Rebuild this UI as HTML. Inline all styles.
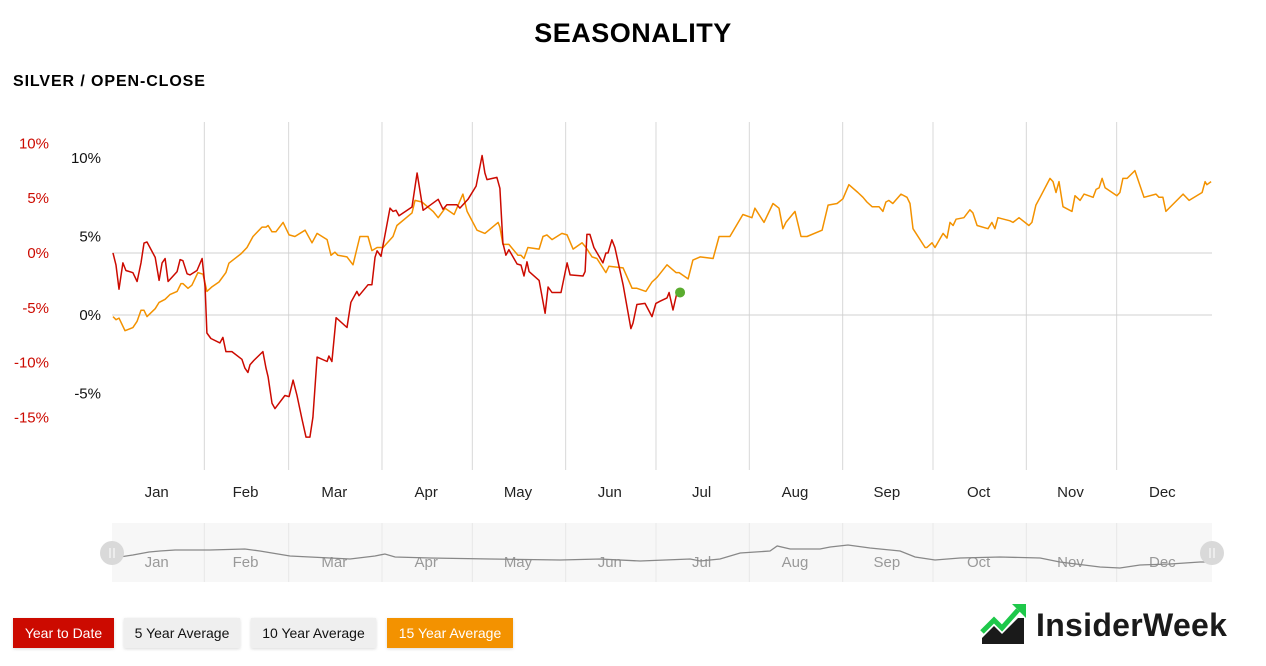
<!DOCTYPE html>
<html><head><meta charset="utf-8">
<style>
body{margin:0;width:1266px;height:666px;background:#fff;font-family:"Liberation Sans","DejaVu Sans",sans-serif;overflow:hidden;position:relative}
.t{position:absolute}
.btn{position:absolute;top:618px;height:30px;line-height:30px;font-size:14px;text-align:center;box-shadow:0 1px 3px rgba(0,0,0,.15)}
</style></head><body>
<div class="t" style="left:0;width:1266px;top:18px;text-align:center;font-size:27px;font-weight:bold;letter-spacing:0.5px">SEASONALITY</div>
<div class="t" style="left:13px;top:73px;font-size:16px;font-weight:bold;letter-spacing:0.9px">SILVER / OPEN-CLOSE</div>
<svg id="chart" width="1266" height="666" style="position:absolute;left:0;top:0"></svg>
<div class="btn" style="left:13px;width:101px;background:#cc0a00;color:#fff">Year to Date</div>
<div class="btn" style="left:124px;width:116px;background:#efefef;color:#111">5 Year Average</div>
<div class="btn" style="left:251px;width:125px;background:#efefef;color:#111">10 Year Average</div>
<div class="btn" style="left:387px;width:126px;background:#f39200;color:#fff">15 Year Average</div>
<div class="t" style="left:980px;top:604px;width:260px;height:44px">
<svg width="48" height="42" style="position:absolute;left:0;top:0">
<polygon points="2,40 2,34 14,22 22,30 38,14 44,14 44,40" fill="#1a1a1a"/>
<polyline points="2,28 14,16 22,24 38,6" fill="none" stroke="#1ec84a" stroke-width="5"/>
<polygon points="32,0 46,0 46,14" fill="#1ec84a"/>
</svg>
<div style="position:absolute;left:56px;top:3px;font-size:32px;font-weight:bold;color:#1a1a1a;letter-spacing:0.3px">InsiderWeek</div>
</div>
<script>
const months=["Jan","Feb","Mar","Apr","May","Jun","Jul","Aug","Sep","Oct","Nov","Dec"];
const monthStarts=[0,31,59,90,120,151,181,212,243,273,304,334];
const redTicks=[10,5,0,-5,-10,-15];
const blackTicks=[10,5,0,-5];
const ytdDays=[0,1,2,3.3,4.3,6.6,8,9.3,10.3,11.3,14,15.3,16.3,17.3,18.3,21.3,22.3,23.2,24.6,25.6,27.9,29.6,30.6,31.2,32.5,35.5,36.5,37.5,39.5,42.8,43.8,44.8,45.5,46.8,49.8,50.8,51.5,52.8,53.8,57.1,58.5,59.8,61.1,62.8,64.1,65.4,66.4,67.8,71.1,71.7,72.7,74.1,77.7,79,81,81.7,84.7,86,87,87.7,89,92,93,94,95,99.3,101,103,108,109.6,110.9,114.2,115.2,117.9,120.6,122.6,123.5,124.2,127.5,128.5,129.5,130.5,131.5,134.2,135.5,136.5,137.5,138.2,141.5,143.5,144.5,145.8,148.8,150.8,151.8,156.1,156.8,157.4,158.4,159.7,162.7,163.7,164.4,165.7,166.7,169.4,170.7,172,172.7,174,176.7,179,180.3,181.7,184,184.7,186,187.3,188];
const ytdValues=[0,-1.1,-3.3,-0.9,-1.6,-1.8,-2.6,-0.9,0.9,1.0,-0.4,-2.5,-0.9,-0.5,-2.6,-1.7,-0.6,-0.7,-1.9,-2.0,-1.6,-0.5,-3.1,-7.3,-7.8,-8.2,-7.7,-9.0,-9.0,-9.7,-10.5,-10.9,-10.2,-9.8,-9.0,-10.5,-11.3,-13.7,-14.2,-13.0,-13.1,-11.6,-13.0,-15.2,-16.8,-16.8,-15.0,-9.5,-9.9,-9.4,-9.9,-5.9,-6.8,-4.5,-3.5,-3.9,-2.9,-2.9,-0.4,0.2,-0.3,4.1,3.8,3.9,3.4,4.2,7.3,3.9,4.9,4.0,4.4,4.4,4.1,4.9,6.1,8.9,7.3,6.7,6.9,5.9,0.9,-0.2,0.3,-1.0,-1.1,-2.1,-0.8,-1.7,-2.5,-5.5,-3.1,-3.6,-3.6,-0.9,-2.0,-2.1,-1.7,1.7,1.7,0.5,-0.9,0,0,1.2,0.5,-2.9,-4.9,-6.9,-6.4,-4.7,-4.6,-5.8,-4.6,-4.4,-4.1,-3.6,-5.2,-3.6,-3.6];
const avgDays=[0,1,2,4,6.6,8,9.3,10.3,11.3,14,15.3,17.3,18.9,21.3,22.6,23.2,24.9,26.2,28.2,29.9,31.2,32.9,35.2,37.5,38.5,42.5,44.5,46.5,49.5,50.8,51.5,52.8,54.1,56.5,58.5,60.4,63.8,66.1,67.8,71.1,72.4,73.7,74.7,77.7,79.7,82,84.7,86,87.7,89.7,93,94.3,99.3,100.3,102.6,106.3,108,110.3,113.3,116.2,117.6,120.9,123.5,127.9,128.5,129.5,131.5,134.5,135.5,136.5,137.8,141.5,142.8,144.1,145.8,149.1,150.8,152.8,155.8,157.1,159.1,160.7,163.7,164.7,169.4,172.4,174,177,179,180.7,184,187,188,191,192.6,195,199.3,201.3,204.9,209.2,212.2,213.2,216.2,219.2,221.2,222.5,223.5,226.5,228.5,230.5,235.5,237.5,240.5,242.4,244.4,247.4,249.1,250.4,252.1,254.4,255.7,256.7,257.7,259,261.7,263.7,264.7,265.7,269.7,270.3,272,273,275.7,277,278,279,280,282.6,284.6,285.6,287,290.6,291.9,292.9,293.9,297.9,298.9,300.9,304.2,305.2,306.5,307.9,311.2,312.2,313.2,314.2,315.5,318.5,319.5,321.2,322.5,325.5,326.5,327.5,328.5,329.5,333.4,334.4,335.4,336.8,339.4,342.4,346.4,347.4,348.7,349.7,355.4,357.4,361.7,362.7,363.3,364.7];
const avgValues=[-0.1,-0.3,-0.2,-1.0,-0.8,-0.4,0.3,0.3,-0.1,0.4,0.8,1.0,1.3,1.5,2.0,2.0,1.7,1.9,2.7,2.6,1.5,1.8,2.1,2.7,3.3,3.9,4.3,5.0,5.6,5.6,5.7,5.3,5.3,5.9,5.1,5.0,5.4,4.6,5.2,4.8,3.8,4.0,3.8,3.7,3.2,5.0,5.0,4.1,4.3,4.3,5.0,5.7,6.5,7.3,7.2,6.6,6.2,6.8,6.4,7.7,6.6,5.4,5.2,5.9,5.6,4.5,4.5,3.8,3.8,3.6,4.3,4.2,5.0,5.1,4.8,5.2,5.1,4.2,4.6,4.3,3.7,3.6,2.7,3.1,3.0,1.7,1.7,1.5,2.1,2.4,3.2,2.7,2.7,2.3,3.5,3.7,3.6,5.0,5.0,6.4,6.2,6.8,5.9,7.1,6.8,5.5,5.9,6.6,5.0,5.0,5.4,7.0,7.1,7.4,8.3,7.8,7.5,7.2,6.9,6.9,6.6,7.2,7.3,7.1,7.7,7.5,7.1,5.5,4.3,4.3,4.6,4.3,5.2,4.9,5.9,5.7,6.1,6.2,6.7,6.5,5.7,5.5,5.9,5.5,6.2,6.0,5.9,6.2,5.7,5.9,7.0,7.5,8.7,8.5,7.8,8.5,6.9,6.6,7.6,7.3,7.7,7.5,8.0,8.1,8.7,8.1,7.6,7.8,8.7,8.7,9.2,7.5,7.7,7.5,7.5,6.6,7.7,7.3,7.8,8.5,8.3,8.5];
const navDays=[0,6.6,12,15.6,20.6,32.2,43.8,48.8,58.8,72.1,78.7,87,90.3,93.7,105.3,125.3,148.5,161.8,175.1,183.4,191.7,195,201.6,208.3,218.2,220.6,224.9,234.8,238.2,244.1,251.4,261.4,266.4,273,281.3,294.6,307.9,314.5,327.8,334.4,341.1,351.1,361,365];
const navValues=[12,15,18,19,20,20,21,19,14,12,11,14,16,13,12,11,10,11,9,10,11,9,11,17,19,24,21,21,23,25,22,19,13,10,12,13,12,8,3,2,5,6,8,8];

const NS="http://www.w3.org/2000/svg";
const svg=document.getElementById('chart');
const X0=113,X1=1212;
const x=d=>X0+d*(X1-X0)/365;
const yRed=v=>253-v*10.96;
const yBlack=v=>315-v*15.7;
const yNav=v=>570-v;
function mk(tag,attrs){const e=document.createElementNS(NS,tag);for(const k in attrs)e.setAttribute(k,attrs[k]);svg.appendChild(e);return e;}
let nb=mk('rect',{x:112,y:523,width:1100,height:59,fill:'#f7f7f7'});


monthStarts.forEach((d,i)=>{
  if(i>0){
    const gx=x(d)-2;
    let g=mk('line',{x1:gx,x2:gx,y1:122,y2:470,stroke:'#d8d8d8','stroke-width':1});
    
    
    let g2=mk('line',{x1:gx,x2:gx,y1:523,y2:582,stroke:'#e8e8e8','stroke-width':1});
    
    
  }
  const next=i<11?monthStarts[i+1]:365;
  const cx=x((d+next)/2)-3;
  let t=mk('text',{x:cx,y:497,'text-anchor':'middle','font-size':15,fill:'#222','font-family':'Liberation Sans, sans-serif'});
  t.textContent=months[i];
  
  
  let t2=mk('text',{x:cx,y:567,'text-anchor':'middle','font-size':15,fill:'#999','font-family':'Liberation Sans, sans-serif'});
  t2.textContent=months[i];
  
  
});
[yRed(0),yBlack(0)].forEach(yy=>{
  let h=mk('line',{x1:112,x2:1212,y1:yy,y2:yy,stroke:'#d0d0d0','stroke-width':1});
  
  
});
redTicks.forEach(v=>{
  let t=mk('text',{x:49,y:yRed(v)+5,'text-anchor':'end','font-size':15,fill:'#cc0a00','font-family':'Liberation Sans, sans-serif'});
  t.textContent=v+'%';
  
  
});
blackTicks.forEach(v=>{
  let t=mk('text',{x:101,y:yBlack(v)+5,'text-anchor':'end','font-size':15,fill:'#111','font-family':'Liberation Sans, sans-serif'});
  t.textContent=v+'%';
  
  
});
const pts=(ds,vs,f)=>ds.map((d,i)=>x(d).toFixed(1)+','+f(vs[i]).toFixed(1)).join(' ');
let nl=mk('polyline',{points:pts(navDays,navValues,yNav),fill:'none',stroke:'#888','stroke-width':1.3});


let ol=mk('polyline',{points:pts(avgDays,avgValues,yBlack),fill:'none',stroke:'#f39200','stroke-width':1.5,'stroke-linejoin':'round'});


let rl=mk('polyline',{points:pts(ytdDays,ytdValues,yRed),fill:'none',stroke:'#cc0a00','stroke-width':1.5,'stroke-linejoin':'round'});


const li=ytdDays.length-1;
let dot=mk('circle',{cx:x(ytdDays[li])+1,cy:yRed(ytdValues[li]),r:5,fill:'#5aac2f'});


[112,1212].forEach((hx,i)=>{
  let c=mk('circle',{cx:hx,cy:553,r:12,fill:'#d9d9d9'});
  
  
  mk('line',{x1:hx-2,x2:hx-2,y1:548,y2:558,stroke:'#fff','stroke-width':1});
  mk('line',{x1:hx+2,x2:hx+2,y1:548,y2:558,stroke:'#fff','stroke-width':1});
});
</script>
</body></html>
